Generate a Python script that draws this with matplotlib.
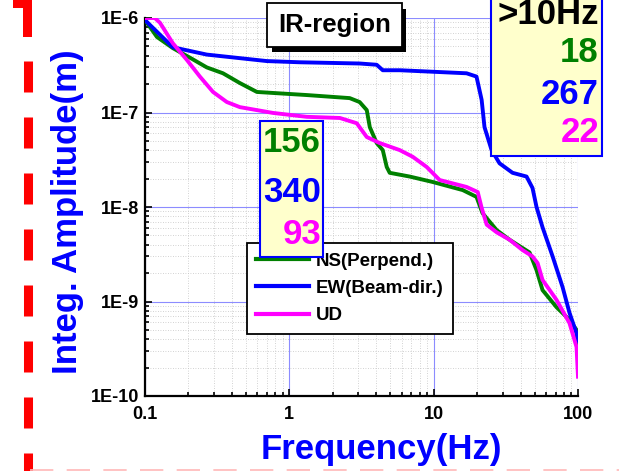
import matplotlib
matplotlib.use("Agg")
import matplotlib.pyplot as plt
from matplotlib.patches import Rectangle
from matplotlib.lines import Line2D
from matplotlib.ticker import LogLocator, NullFormatter

plt.rcParams['font.family'] = ['Liberation Sans', 'DejaVu Sans']
plt.rcParams['font.weight'] = 'bold'

# integrated amplitude curves
ns_freq = [0.1, 0.121, 0.156, 0.205, 0.268, 0.347, 0.454, 0.596, 0.769, 1.32, 2.62, 3.07, 3.44,
           3.61, 4.03, 4.44, 4.73, 4.96, 6.82, 9.84, 15.9, 19.8, 21.8, 27.3, 33.6, 46.2, 51.6,
           56.8, 71.0, 87.3, 97.7, 100]
ns_amp = [9.5e-7, 6.3e-7, 4.8e-7, 3.8e-7, 3.0e-7, 2.6e-7, 2.05e-7, 1.65e-7, 1.61e-7, 1.53e-7,
          1.42e-7, 1.29e-7, 1.06e-7, 7.0e-8, 4.75e-8, 4.0e-8, 2.65e-8, 2.3e-8, 2.1e-8, 1.84e-8,
          1.51e-8, 1.28e-8, 8.6e-9, 5.7e-9, 4.5e-9, 3.3e-9, 2.15e-9, 1.32e-9, 8.7e-10, 6.4e-10,
          5.0e-10, 2.85e-10]

ew_freq = [0.1, 0.156, 0.268, 0.70, 1.18, 3.07, 4.03, 4.44, 5.82, 16.9, 19.8, 21.5, 22.5, 25.2,
           28.6, 35.2, 44.0, 48.4, 51.6, 56.8, 66.7, 78.2, 87.3, 97.7, 100]
ew_amp = [9.5e-7, 4.9e-7, 4.1e-7, 3.5e-7, 3.4e-7, 3.3e-7, 3.2e-7, 2.8e-7, 2.8e-7, 2.6e-7,
          2.4e-7, 1.36e-7, 7.0e-8, 4.0e-8, 2.9e-8, 2.3e-8, 2.1e-8, 1.59e-8, 1.0e-8, 6.1e-9,
          3.0e-9, 1.42e-9, 7.6e-10, 4.6e-10, 3.8e-10]

ud_freq = [0.1, 0.117, 0.127, 0.156, 0.195, 0.240, 0.296, 0.369, 0.454, 0.596, 0.769, 1.32,
           2.24, 2.93, 3.44, 4.23, 5.82, 7.16, 8.95, 11.0, 16.9, 20.2, 21.5, 23.3, 27.3, 33.6,
           41.3, 48.4, 52.5, 56.8, 71.0, 87.3, 97.7, 100]
ud_amp = [1.0e-6, 1.0e-6, 8.9e-7, 5.4e-7, 3.6e-7, 2.4e-7, 1.65e-7, 1.29e-7, 1.14e-7, 1.06e-7,
          9.9e-8, 9.0e-8, 8.75e-8, 7.7e-8, 5.5e-8, 4.75e-8, 4.0e-8, 3.4e-8, 2.65e-8, 1.93e-8,
          1.63e-8, 1.44e-8, 9.8e-9, 6.5e-9, 5.4e-9, 4.5e-9, 3.5e-9, 3.0e-9, 2.55e-9, 1.69e-9,
          1.04e-9, 5.9e-10, 3.3e-10, 1.6e-10]

names = ["NS(Perpend.)", "EW(Beam-dir.)", "UD"]
colors = ["#008000", "#0000ff", "#ff00ff"]

x_ticks = [0.1, 1, 10, 100]
x_ticklabels = ["0.1", "1", "10", "100"]
y_ticks = [1e-10, 1e-9, 1e-8, 1e-7, 1e-6]
y_ticklabels = ["1E-10", "1E-9", "1E-8", "1E-7", "1E-6"]

# rms numbers in the two boxes (<10Hz and >10Hz)
low_vals = ["156", "340", "93"]
high_vals = ["18", "267", "22"]

W, H = 619, 471
fig = plt.figure(figsize=(W / 100, H / 100), dpi=100)


def fx(x):
    return x / W


def fy(y):
    return 1 - y / H


ax = fig.add_axes([fx(145), fy(396), fx(578) - fx(145), fy(18) - fy(396)])
for f, a, n, c in zip([ns_freq, ew_freq, ud_freq], [ns_amp, ew_amp, ud_amp], names, colors):
    ax.plot(f, a, color=c, lw=2.8, label=n, solid_joinstyle='round', zorder=3)

ax.set_xscale('log')
ax.set_yscale('log')
ax.set_xlim(0.1, 100)
ax.set_ylim(1e-10, 1e-6)
ax.set_xticks(x_ticks)
ax.set_xticklabels(x_ticklabels)
ax.set_yticks(y_ticks)
ax.set_yticklabels(y_ticklabels)
ax.xaxis.set_minor_locator(LogLocator(base=10, subs=range(2, 10)))
ax.yaxis.set_minor_locator(LogLocator(base=10, subs=range(2, 10)))
ax.xaxis.set_minor_formatter(NullFormatter())
ax.yaxis.set_minor_formatter(NullFormatter())
ax.tick_params(which='both', direction='in', width=1.2, labelsize=13)
ax.tick_params(which='major', length=5)
ax.tick_params(which='minor', length=3)
ax.tick_params(axis='x', pad=7)
ax.tick_params(axis='y', pad=4)
for lab in ax.get_xticklabels() + ax.get_yticklabels():
    lab.set_fontweight('bold')

ax.spines['top'].set_visible(False)
ax.spines['right'].set_visible(False)
ax.spines['left'].set_linewidth(1.6)
ax.spines['bottom'].set_linewidth(1.6)
ax.grid(True, which='major', color='#8c8cff', lw=0.8)
ax.grid(True, which='minor', color='#c4c4c4', lw=0.6, linestyle=(0, (1, 2)))
ax.set_axisbelow(True)

leg = ax.legend(loc='upper left', bbox_to_anchor=(fx(247), fy(243)), bbox_transform=fig.transFigure,
                fancybox=False, framealpha=1, edgecolor='black', fontsize=13.5,
                handlelength=2.8, handletextpad=0.35, labelspacing=0.55, borderpad=0.5,
                borderaxespad=0)
leg.get_frame().set_linewidth(1.3)
for t in leg.get_texts():
    t.set_fontweight('bold')
for l in leg.get_lines():
    l.set_linewidth(3)

fig.text(fx(68), fy(212), "Integ. Amplitude(m)", rotation=90, color='#0000ff', fontsize=25,
         fontweight='bold', ha='center', va='center')
fig.text(fx(381), fy(449), "Frequency(Hz)", color='#0000ff', fontsize=25,
         fontweight='bold', ha='center', va='center')

# IR-region label with shadow
fig.add_artist(Rectangle((fx(272), fy(52)), fx(134), fy(9) - fy(52), transform=fig.transFigure,
                         facecolor='black', edgecolor='none'))
fig.add_artist(Rectangle((fx(267), fy(47)), fx(135), fy(3) - fy(47), transform=fig.transFigure,
                         facecolor='white', edgecolor='black', lw=1.3))
fig.text(fx(335), fy(25), "IR-region", fontsize=18.5, fontweight='bold', ha='center', va='center')

# yellow boxes
fig.add_artist(Rectangle((fx(260), fy(257)), fx(63), fy(121) - fy(257), transform=fig.transFigure,
                         facecolor='#ffffcc', edgecolor='#0000ff', lw=1.5))
for v, c, yy in zip(low_vals, colors, [143, 192, 235]):
    fig.text(fx(321), fy(yy), v, color=c, fontsize=25, fontweight='bold', ha='right', va='center')

fig.add_artist(Rectangle((fx(491), fy(156)), fx(111), fy(-5) - fy(156), transform=fig.transFigure,
                         facecolor='#ffffcc', edgecolor='#0000ff', lw=1.5))
fig.text(fx(599), fy(15), ">10Hz", color='black', fontsize=25, fontweight='bold', ha='right', va='center')
for v, c, yy in zip(high_vals, colors, [53, 95, 133]):
    fig.text(fx(599), fy(yy), v, color=c, fontsize=25, fontweight='bold', ha='right', va='center')

# red dashed frame on the left
fig.add_artist(Rectangle((fx(13), fy(8)), fx(19), fy(0) - fy(8), transform=fig.transFigure,
                         facecolor='red', edgecolor='none'))
fig.add_artist(Rectangle((fx(23), fy(37)), fx(9), fy(0) - fy(37), transform=fig.transFigure,
                         facecolor='red', edgecolor='none'))
fig.add_artist(Line2D([fx(27.5), fx(27.5)], [fy(61), fy(471)], transform=fig.transFigure,
                      color='red', lw=6.5, dashes=(31 * 0.72 / 6.5, 25 * 0.72 / 6.5),
                      solid_capstyle='butt', dash_capstyle='butt'))
fig.add_artist(Line2D([fx(30), fx(619)], [fy(469.5), fy(469.5)], transform=fig.transFigure,
                      color='#ffb8b8', lw=1.2, linestyle=(0, (14, 8))))

fig.savefig("out.png", dpi=100)
